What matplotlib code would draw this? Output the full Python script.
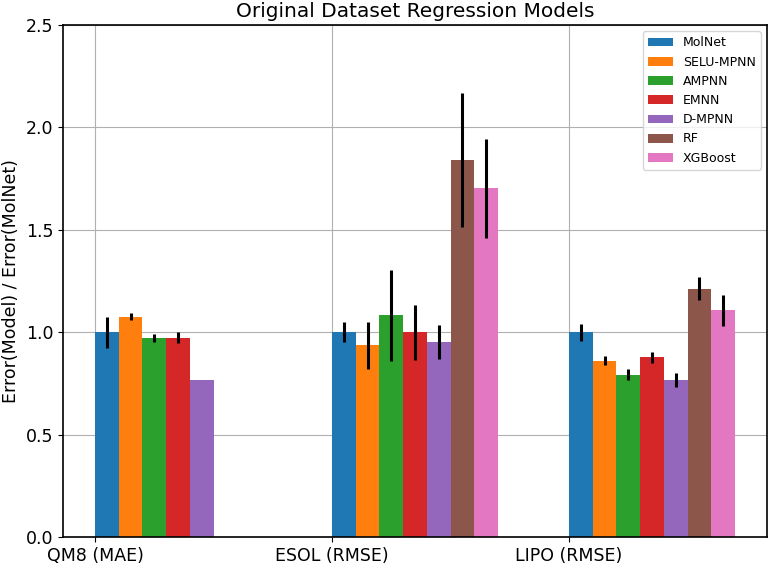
import matplotlib
matplotlib.use("Agg")
import matplotlib.pyplot as plt
import numpy as np

datasets = ["QM8 (MAE)", "ESOL (RMSE)", "LIPO (RMSE)"]
models = ["MolNet", "SELU-MPNN", "AMPNN", "EMNN", "D-MPNN", "RF", "XGBoost"]

# relative errors per model, one value per dataset (nan = not run)
scores = {
    "MolNet":    [1.000, 1.000, 1.000],
    "SELU-MPNN": [1.076, 0.936, 0.861],
    "AMPNN":     [0.971, 1.082, 0.793],
    "EMNN":      [0.973, 1.000, 0.877],
    "D-MPNN":    [0.767, 0.952, 0.767],
    "RF":        [np.nan, 1.841, 1.213],
    "XGBoost":   [np.nan, 1.703, 1.107],
}
errors = {
    "MolNet":    [0.076, 0.050, 0.042],
    "SELU-MPNN": [0.016, 0.115, 0.022],
    "AMPNN":     [0.020, 0.222, 0.027],
    "EMNN":      [0.027, 0.135, 0.028],
    "D-MPNN":    [0.000, 0.083, 0.033],
    "RF":        [np.nan, 0.328, 0.056],
    "XGBoost":   [np.nan, 0.241, 0.075],
}

fig = plt.figure(figsize=(7.68, 5.66), dpi=100)
ax = fig.add_subplot()
fig.subplots_adjust(left=63 / 768, right=767 / 768, bottom=1 - 537 / 566, top=1 - 25 / 566)

x = np.arange(len(datasets))
width = 0.1

for i, model in enumerate(models):
    ax.bar(
        x + i * width, scores[model], width, align="edge",
        yerr=errors[model], label=model, zorder=2,
        error_kw=dict(ecolor="black", elinewidth=2.2, capsize=0),
    )

ax.set_xticks(x)
ax.set_xticklabels(datasets, fontsize=12.5)
ax.tick_params(axis="y", labelsize=12.5)
ax.set_ylim(0, 2.5)
ax.set_ylabel("Error(Model) / Error(MolNet)", fontsize=12.5)
ax.set_title("Original Dataset Regression Models", fontsize=14.5)
ax.grid(True, zorder=0)
ax.set_axisbelow(True)
for spine in ax.spines.values():
    spine.set_linewidth(1.2)
ax.legend(loc="upper right", fontsize=9)

fig.savefig("out.png", dpi=100)
